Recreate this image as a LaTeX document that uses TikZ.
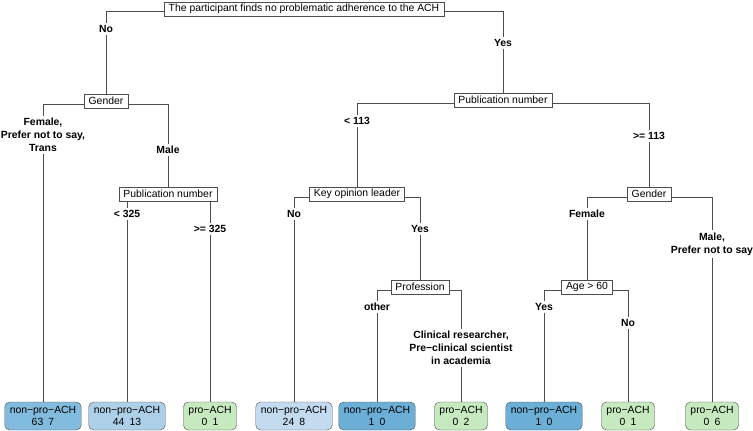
\documentclass[tikz,border=0pt]{standalone}
\usepackage{fontspec}
\setmainfont{Liberation Sans}
\usetikzlibrary{positioning}

\definecolor{edgegray}{HTML}{4D4D4D}
\definecolor{blueA}{HTML}{82BBDD}
\definecolor{blueB}{HTML}{ADD0E8}
\definecolor{blueC}{HTML}{C4DAEE}
\definecolor{blueD}{HTML}{6BAED6}
\definecolor{greenA}{HTML}{C7E9C0}

\begin{document}
\begin{tikzpicture}[x=1pt, y=-1pt,
    split/.style={draw=edgegray, fill=white, inner xsep=4.5pt, inner ysep=1.5pt,
      minimum height=14pt, font=\fontsize{10.4}{12}\selectfont},
    leaf/.style={draw=edgegray, rounded corners=5pt, align=center, inner xsep=5pt,
      minimum height=28pt, font=\fontsize{10.4}{12}\selectfont},
    lab/.style={align=center, inner sep=2pt, font=\fontsize{10.4}{13}\selectfont\bfseries},
    edge/.style={draw=edgegray, line width=0.8pt}]
  \useasboundingbox (0,0) rectangle (753,431);

  % split boxes
  \node[split] (root) at (304,9) {The participant finds no problematic adherence to the ACH};
  \node[split] (gen1) at (106,101) {Gender};
  \node[split] (pub1) at (168,194) {Publication number};
  \node[split] (pub2) at (503,100) {Publication number};
  \node[split] (kol) at (357,194) {Key opinion leader};
  \node[split] (prof) at (420,287) {Profession};
  \node[split] (gen2) at (649,194) {Gender};
  \node[split] (age) at (587,287) {Age > 60};

  % branch labels
  \node[lab] (lNo) at (106,29) {No};
  \node[lab] (lYes) at (503,43) {Yes};
  \node[lab] (lFem) at (43,135) {Female,\\Prefer not to say,\\Trans};
  \node[lab] (lMale) at (168,150) {Male};
  \node[lab] (lLtA) at (127,214) {< 325};
  \node[lab] (lGeA) at (210,229) {>= 325};
  \node[lab] (lLtB) at (357,121) {< 113};
  \node[lab] (lGeB) at (649,136) {>= 113};
  \node[lab] (lNoKol) at (294,214) {No};
  \node[lab] (lYesKol) at (420,229) {Yes};
  \node[lab] (lOther) at (377,307) {other};
  \node[lab] (lClin) at (461,348) {Clinical researcher,\\Pre−clinical scientist\\in academia};
  \node[lab] (lFemB) at (587,214) {Female};
  \node[lab] (lMaleB) at (712,244) {Male,\\Prefer not to say};
  \node[lab] (lYesAge) at (544,307) {Yes};
  \node[lab] (lNoAge) at (628,323) {No};

  % leaves
  \node[leaf, fill=blueA] (leafA) at (43,416) {non−pro−ACH\\63\enspace 7};
  \node[leaf, fill=blueB] (leafB) at (127,416) {non−pro−ACH\\44\enspace 13};
  \node[leaf, fill=greenA] (leafC) at (210,416) {pro−ACH\\0\enspace 1};
  \node[leaf, fill=blueC] (leafD) at (294,416) {non−pro−ACH\\24\enspace 8};
  \node[leaf, fill=blueD] (leafE) at (377,416) {non−pro−ACH\\1\enspace 0};
  \node[leaf, fill=greenA] (leafF) at (461,416) {pro−ACH\\0\enspace 2};
  \node[leaf, fill=blueD] (leafG) at (544,416) {non−pro−ACH\\1\enspace 0};
  \node[leaf, fill=greenA] (leafH) at (628,416) {pro−ACH\\0\enspace 1};
  \node[leaf, fill=greenA] (leafI) at (712,416) {pro−ACH\\0\enspace 6};

  % branches
  \draw[edge] ([yshift=-2pt]root.west) -| (lNo.north);
  \draw[edge] (lNo) -- (gen1);
  \draw[edge] ([yshift=-2pt]root.east) -| (lYes.north);
  \draw[edge] (lYes) -- (pub2);

  \draw[edge] ([yshift=-3pt]gen1.west) -| (lFem.north);
  \draw[edge] (lFem) -- (leafA);
  \draw[edge] ([yshift=-3pt]gen1.east) -| (lMale.north);
  \draw[edge] (lMale) -- (pub1);

  \draw[edge] (lLtA.north |- pub1.south) -- (lLtA.north);
  \draw[edge] (lLtA) -- (leafB);
  \draw[edge] (lGeA.north |- pub1.south) -- (lGeA.north);
  \draw[edge] (lGeA) -- (leafC);

  \draw[edge] ([yshift=-3pt]pub2.west) -| (lLtB.north);
  \draw[edge] (lLtB) -- (kol);
  \draw[edge] ([yshift=-3pt]pub2.east) -| (lGeB.north);
  \draw[edge] (lGeB) -- (gen2);

  \draw[edge] ([yshift=-3pt]kol.west) -| (lNoKol.north);
  \draw[edge] (lNoKol) -- (leafD);
  \draw[edge] ([yshift=-3pt]kol.east) -| (lYesKol.north);
  \draw[edge] (lYesKol) -- (prof);

  \draw[edge] ([yshift=-3pt]prof.west) -| (lOther.north);
  \draw[edge] (lOther) -- (leafE);
  \draw[edge] ([yshift=-3pt]prof.east) -| (lClin.north);
  \draw[edge] (lClin) -- (leafF);

  \draw[edge] ([yshift=-3pt]gen2.west) -| (lFemB.north);
  \draw[edge] (lFemB) -- (age);
  \draw[edge] ([yshift=-3pt]gen2.east) -| (lMaleB.north);
  \draw[edge] (lMaleB) -- (leafI);

  \draw[edge] ([yshift=-3pt]age.west) -| (lYesAge.north);
  \draw[edge] (lYesAge) -- (leafG);
  \draw[edge] ([yshift=-3pt]age.east) -| (lNoAge.north);
  \draw[edge] (lNoAge) -- (leafH);
\end{tikzpicture}
\end{document}
